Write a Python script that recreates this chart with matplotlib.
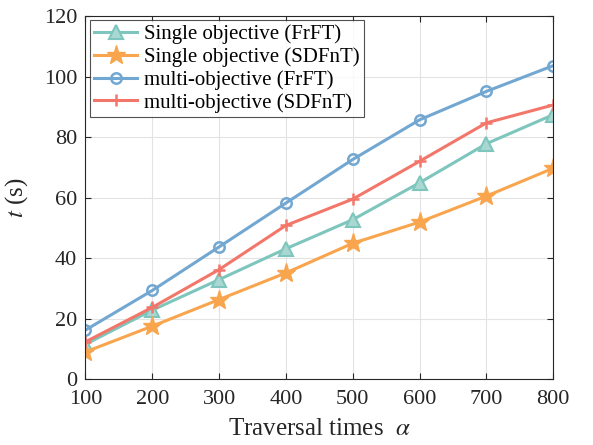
import matplotlib
matplotlib.use("Agg")
import matplotlib.pyplot as plt

alpha = [100, 200, 300, 400, 500, 600, 700, 800]
single_frft = [11.5, 22.8, 32.9, 43.1, 52.7, 64.9, 77.8, 87.4]
single_sdfnt = [9.0, 17.5, 26.3, 35.1, 44.9, 51.9, 60.5, 69.7]
multi_frft = [16.2, 29.3, 43.7, 58.2, 72.6, 85.7, 95.1, 103.6]
multi_sdfnt = [12.3, 23.7, 36.2, 50.8, 59.5, 72.0, 84.7, 90.6]

labels = ["Single objective (FrFT)", "Single objective (SDFnT)",
          "multi-objective (FrFT)", "multi-objective (SDFnT)"]
yticks = [0, 20, 40, 60, 80, 100, 120]

plt.rcParams["font.family"] = ["Liberation Serif", "DejaVu Serif"]
plt.rcParams["mathtext.fontset"] = "stix"

fig = plt.figure(figsize=(5.93, 4.45), dpi=100)
ax = fig.add_axes([0.144, 0.148, 0.789, 0.816])

ax.plot(alpha, single_frft, color="#7ec6bd", lw=2.2, marker="^", ms=10,
        mfc="#a8d8d1", mec="#7ec6bd", mew=1.5, label=labels[0])
ax.plot(alpha, single_sdfnt, color="#f8a54e", lw=2.2, marker="*", ms=14,
        mfc="#f8a54e", mec="#f8a54e", label=labels[1])
ax.plot(alpha, multi_frft, color="#72a7d2", lw=2.2, marker="o", ms=7.5,
        mfc="none", mec="#72a7d2", mew=1.8, label=labels[2])
ax.plot(alpha, multi_sdfnt, color="#f3766a", lw=2.2, marker="+", ms=8,
        mec="#f3766a", mew=1.8, label=labels[3])

ax.set_xlim(100, 800)
ax.set_ylim(0, 120)
ax.set_xticks(alpha)
ax.set_yticks(yticks)
ax.tick_params(direction="in", labelsize=16, length=4, colors="#262626",
               top=True, right=True)
ax.tick_params(axis="x", pad=8)
ax.tick_params(axis="y", pad=6)
ax.grid(True, color="#e3e3e3", lw=0.8)
for s in ax.spines.values():
    s.set_color("#262626")
    s.set_linewidth(0.8)

ax.set_xlabel(r"Traversal times  $\alpha$", fontsize=18, color="#262626",
              labelpad=6)
ax.set_ylabel(r"$t$ (s)", fontsize=18, color="#262626", labelpad=10)

leg = ax.legend(loc="upper left", fontsize=15, frameon=True, fancybox=False,
                edgecolor="#262626", borderpad=0.2, labelspacing=0.15,
                handlelength=2.1, handletextpad=0.3, borderaxespad=0.2)
leg.get_frame().set_linewidth(0.8)

fig.savefig("out.png", dpi=100)
